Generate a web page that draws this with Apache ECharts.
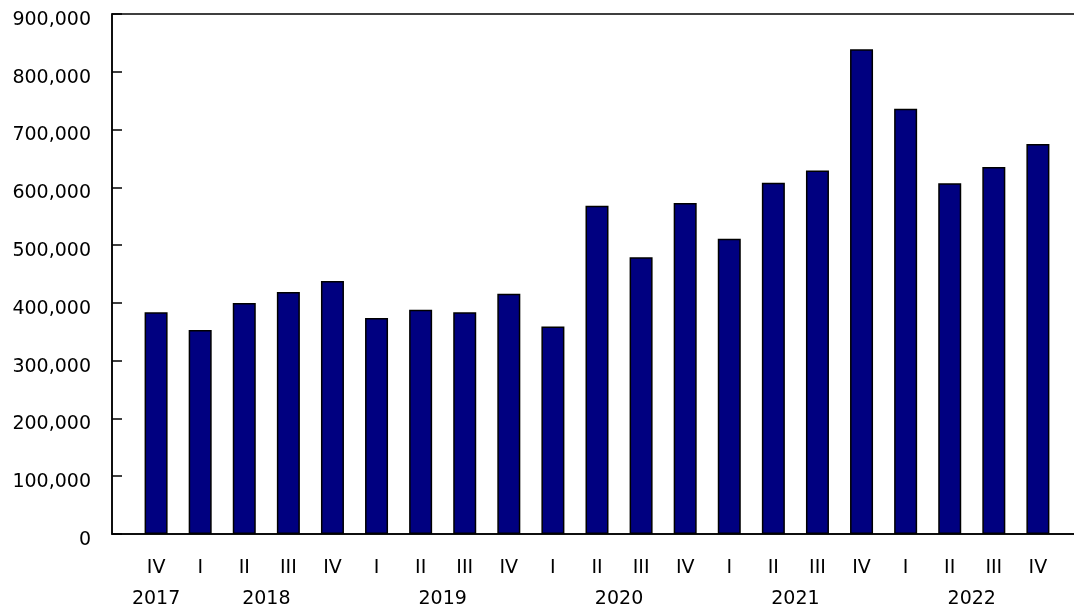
<!DOCTYPE html>
<html><head><meta charset="utf-8">
<script src="https://cdn.jsdelivr.net/npm/echarts@6/dist/echarts.min.js"></script>
<style>html,body{margin:0;padding:0;background:#fff}#c{width:1074px;height:609px}</style>
</head><body><div id="c"></div>
<script>
const quarters = ['IV','I','II','III','IV','I','II','III','IV','I','II','III','IV','I','II','III','IV','I','II','III','IV'];
const years = ['2017','2018','2018','2018','2018','2019','2019','2019','2019','2020','2020','2020','2020','2021','2021','2021','2021','2022','2022','2022','2022'];
const values = [384000,353000,400000,419000,438000,374000,388000,384000,416000,359000,568000,479000,573000,511000,608000,629000,839000,736000,607000,635000,675000];
const yTicks = [0,100000,200000,300000,400000,500000,600000,700000,800000,900000];

// category slots: one empty slot before and after the data
const cats = [''].concat(quarters, ['']);
const data = [null].concat(values, [null]);
// year label positions = mean slot index of each year's quarters
const yearPos = {};
years.forEach((y, i) => { (yearPos[y] = yearPos[y] || []).push(i + 1); });
const yearAt = {};
Object.keys(yearPos).forEach(y => { const a = yearPos[y]; yearAt[(a.reduce((s, v) => s + v, 0) / a.length).toFixed(1)] = y; });

const font = 'DejaVu Sans, Verdana, sans-serif';
const chart = echarts.init(document.getElementById('c'), null, {renderer: 'canvas'});
chart.setOption({
  animation: false,
  grid: {left: 112, top: 14, right: -8, bottom: 75, outerBoundsMode: 'none', containLabel: false,
    show: true, borderColor: '#000', borderWidth: 1.5, backgroundColor: 'transparent'},
  xAxis: [{
    type: 'category', data: cats, boundaryGap: false,
    axisLine: {lineStyle: {color: '#000', width: 1.5}},
    axisTick: {show: false},
    axisLabel: {color: '#000', fontSize: 19, fontFamily: font, margin: 25, interval: 0},
    splitLine: {show: false}
  }, {
    type: 'value', position: 'bottom', min: 0, max: cats.length - 1, interval: 0.5,
    axisLine: {show: false}, axisTick: {show: false}, splitLine: {show: false},
    axisLabel: {color: '#000', fontSize: 19, fontFamily: font, margin: 56,
      formatter: v => yearAt[v.toFixed(1)] || ''}
  }],
  yAxis: {
    type: 'value', min: yTicks[0], max: yTicks[yTicks.length - 1], interval: yTicks[1] - yTicks[0],
    axisLine: {show: true, lineStyle: {color: '#000', width: 1.5}},
    axisTick: {show: true, inside: true, length: 10, lineStyle: {color: '#000', width: 1.5}},
    splitLine: {show: false},
    axisLabel: {color: '#000', fontSize: 19, fontFamily: font, margin: 21,
      formatter: v => '{v|' + v.toLocaleString('en-US') + '}',
      rich: {v: {fontSize: 19, fontFamily: font, color: '#000', padding: [12, 0, 0, 0]}}}
  },
  series: [{
    type: 'bar', data: data, xAxisIndex: 0, barWidth: 23,
    itemStyle: {color: '#000080', borderColor: '#000', borderWidth: 1.5}
  }]
});
</script></body></html>
